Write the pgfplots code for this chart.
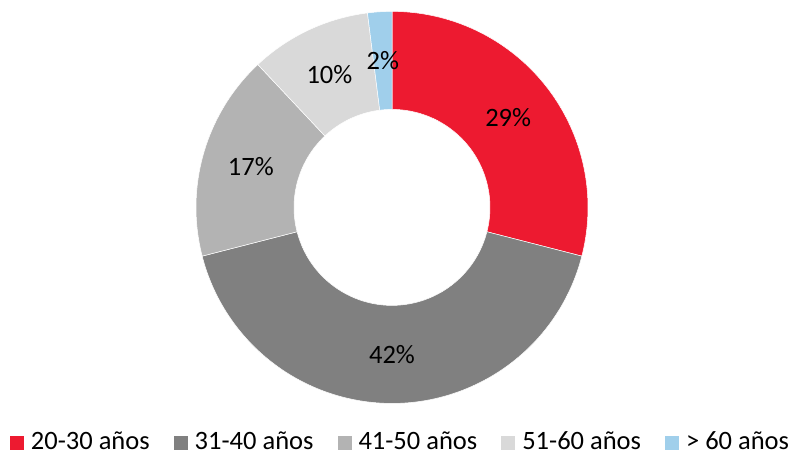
\documentclass[border=0pt]{standalone}
\usepackage{pgfplots}
\pgfplotsset{compat=1.18}
\usepackage{fontspec}
\setmainfont{Carlito}
\definecolor{cA}{HTML}{ED1A30}
\definecolor{cB}{HTML}{808080}
\definecolor{cC}{HTML}{B3B3B3}
\definecolor{cD}{HTML}{D9D9D9}
\definecolor{cE}{HTML}{A0CFEB}
% data (percent)
\def\vA{29}\def\vB{42}\def\vC{17}\def\vD{10}\def\vE{2}
\def\cx{392}\def\cy{247.6}\def\Ro{196}\def\Ri{98}
\pgfmathsetmacro\aA{90}
\pgfmathsetmacro\aB{\aA-3.6*\vA}
\pgfmathsetmacro\aC{\aB-3.6*\vB}
\pgfmathsetmacro\aD{\aC-3.6*\vC}
\pgfmathsetmacro\aE{\aD-3.6*\vD}
\pgfmathsetmacro\aF{\aE-3.6*\vE}
\newcommand{\slice}[4]{%
  \fill[#3, draw=white, line width=0.5pt] (axis cs:{\cx+\Ro*cos(#1)},{\cy+\Ro*sin(#1)})
    arc[start angle=#1, end angle=#2, radius=\Ro pt]
    -- (axis cs:{\cx+\Ri*cos(#2)},{\cy+\Ri*sin(#2)})
    arc[start angle=#2, end angle=#1, radius=\Ri pt] -- cycle;
  \node[font=\fontsize{26.5}{30}\selectfont, anchor=center] at
    (axis cs:{\cx+0.5*(\Ro+\Ri)*cos((#1+#2)/2)},{\cy+0.5*(\Ro+\Ri)*sin((#1+#2)/2)})
    {#4\%};
}
\begin{document}
\begin{tikzpicture}
\begin{axis}[
  scale only axis, width=798pt, height=455pt,
  xmin=0, xmax=798, ymin=0, ymax=455,
  hide axis, clip=false,
  legend columns=5,
  legend image code/.code={\fill[#1, draw=none] (0pt,0pt) rectangle (14pt,14pt);},
  legend style={at={(axis cs:399.5,13.5)}, anchor=center, draw=none, fill=none,
    font=\fontsize{26.5}{30}\selectfont,
    nodes={inner sep=0pt, anchor=base west},
    /tikz/every odd column/.append style={column sep=7pt},
    /tikz/every even column/.append style={column sep=24pt}},
]
\path (axis cs:0,0) rectangle (axis cs:798,455);
\slice{\aA}{\aB}{cA}{\vA}
\slice{\aB}{\aC}{cB}{\vB}
\slice{\aC}{\aD}{cC}{\vC}
\slice{\aD}{\aE}{cD}{\vD}
\slice{\aE}{\aF}{cE}{\vE}
\addlegendimage{fill=cA}\addlegendentry{20-30 años}
\addlegendimage{fill=cB}\addlegendentry{31-40 años}
\addlegendimage{fill=cC}\addlegendentry{41-50 años}
\addlegendimage{fill=cD}\addlegendentry{51-60 años}
\addlegendimage{fill=cE}\addlegendentry{> 60 años}
\end{axis}
\end{tikzpicture}
\end{document}
